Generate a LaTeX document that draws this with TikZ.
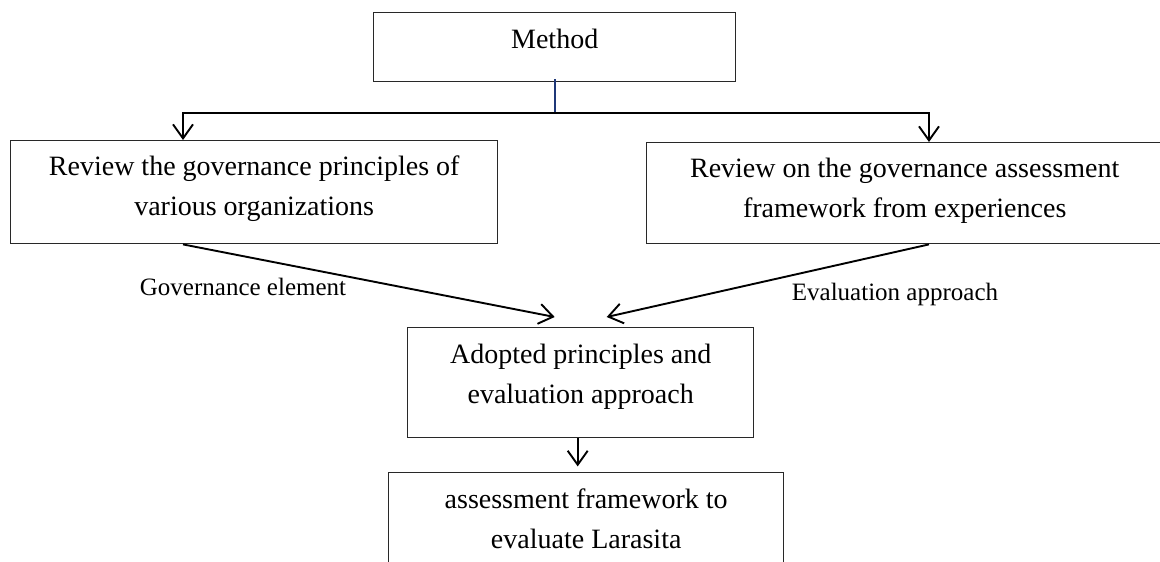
\documentclass[tikz,border=0pt]{standalone}
\usepackage{fontspec}
\setmainfont{Liberation Serif}
\usetikzlibrary{arrows.meta}

\definecolor{boxgray}{RGB}{40,40,40}
\definecolor{navy}{RGB}{31,56,120}

% box text: width, height, top gap, lines
\newcommand\flowtext[4]{%
  \parbox[t][#2pt][t]{#1pt}{\fontsize{28}{40}\selectfont\centering
    \vspace*{#3pt}\rule{0pt}{20pt}#4}}

\tikzset{
  flowbox/.style={draw=boxgray, line width=1.4pt, inner sep=0pt, anchor=north west},
  conn/.style={draw=black, line width=1.9pt},
  arr/.style={conn, -{Straight Barb[length=14pt,width=20pt]}},
  arrboth/.style={conn, {Straight Barb[length=14pt,width=20pt]}-{Straight Barb[length=14pt,width=20pt]}},
  feed/.style={draw=navy, line width=1.8pt},
  lbl/.style={anchor=base, inner sep=0pt, font=\fontsize{25}{30}\selectfont}
}

\begin{document}
\begin{tikzpicture}[x=1pt, y=-1pt]
  \useasboundingbox (0,0) rectangle (1160,562);
  \clip (0,0) rectangle (1160,562);
  \fill[white] (0,0) rectangle (1160,562);

  % boxes
  \node[flowbox] (method) at (373,12) {\flowtext{362}{69}{16}{Method}};
  \node[flowbox] (lbox) at (10,140)
    {\flowtext{487}{103}{15}{Review the governance principles of\\various organizations}};
  \node[flowbox] (rbox) at (646,142)
    {\flowtext{516}{101}{15}{Review on the governance assessment\\framework from experiences}};
  \node[flowbox] (adopted) at (407,327)
    {\flowtext{346}{110}{16}{Adopted principles and\\evaluation approach}};
  \node[flowbox] (final) at (388,472)
    {\flowtext{395}{130}{16}{assessment framework to\\evaluate Larasita}};

  % split below the method box
  \coordinate (hl) at (183,113);
  \coordinate (hr) at (929,113);
  \draw[feed] ([yshift=3pt]method.south) -- (method.south |- hl);
  \draw[arrboth] (hl |- lbox.north) -- (hl) -- (hr) -- (hr |- rbox.north);

  % the two reviews feed the adopted principles
  \draw[arr] (hl |- lbox.south) -- ([xshift=-26pt,yshift=10pt]adopted.north);
  \draw[arr] (hr |- rbox.south) -- ([xshift=26pt,yshift=10pt]adopted.north);

  \node[lbl] (gov) at (243,295) {Governance element};
  \node[lbl] (eva) at (895,300) {Evaluation approach};

  % adopted principles lead to the framework
  \draw[arr] ([xshift=-3pt]adopted.south) -- ++(0,28);
\end{tikzpicture}
\end{document}
